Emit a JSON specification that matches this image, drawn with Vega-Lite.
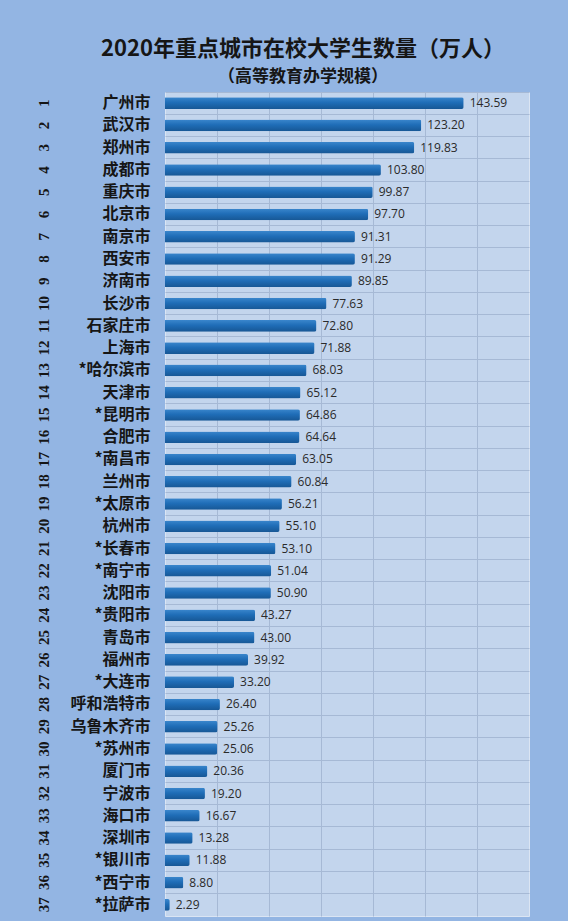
{
  "$schema": "https://vega.github.io/schema/vega-lite/v6.json",
  "width": 364,
  "height": 824,
  "autosize": {"type": "none"},
  "padding": {"left": 165, "top": 92, "right": 39, "bottom": 5},
  "background": "#93b5e3",
  "title": {
    "text": "2020年重点城市在校大学生数量（万人）",
    "subtitle": "（高等教育办学规模）",
    "font": "Noto Sans CJK SC",
    "subtitleFont": "Noto Sans CJK SC",
    "fontSize": 22,
    "subtitleFontSize": 17,
    "fontWeight": "bold",
    "subtitleFontWeight": "bold",
    "color": "#161616",
    "subtitleColor": "#161616",
    "anchor": "middle",
    "dx": -44,
    "offset": 6,
    "subtitlePadding": 8
  },
  "data": {
    "values": [
      {"rank": 1, "city": "广州市", "value": 143.59},
      {"rank": 2, "city": "武汉市", "value": 123.20},
      {"rank": 3, "city": "郑州市", "value": 119.83},
      {"rank": 4, "city": "成都市", "value": 103.80},
      {"rank": 5, "city": "重庆市", "value": 99.87},
      {"rank": 6, "city": "北京市", "value": 97.70},
      {"rank": 7, "city": "南京市", "value": 91.31},
      {"rank": 8, "city": "西安市", "value": 91.29},
      {"rank": 9, "city": "济南市", "value": 89.85},
      {"rank": 10, "city": "长沙市", "value": 77.63},
      {"rank": 11, "city": "石家庄市", "value": 72.80},
      {"rank": 12, "city": "上海市", "value": 71.88},
      {"rank": 13, "city": "*哈尔滨市", "value": 68.03},
      {"rank": 14, "city": "天津市", "value": 65.12},
      {"rank": 15, "city": "*昆明市", "value": 64.86},
      {"rank": 16, "city": "合肥市", "value": 64.64},
      {"rank": 17, "city": "*南昌市", "value": 63.05},
      {"rank": 18, "city": "兰州市", "value": 60.84},
      {"rank": 19, "city": "*太原市", "value": 56.21},
      {"rank": 20, "city": "杭州市", "value": 55.10},
      {"rank": 21, "city": "*长春市", "value": 53.10},
      {"rank": 22, "city": "*南宁市", "value": 51.04},
      {"rank": 23, "city": "沈阳市", "value": 50.90},
      {"rank": 24, "city": "*贵阳市", "value": 43.27},
      {"rank": 25, "city": "青岛市", "value": 43.00},
      {"rank": 26, "city": "福州市", "value": 39.92},
      {"rank": 27, "city": "*大连市", "value": 33.20},
      {"rank": 28, "city": "呼和浩特市", "value": 26.40},
      {"rank": 29, "city": "乌鲁木齐市", "value": 25.26},
      {"rank": 30, "city": "*苏州市", "value": 25.06},
      {"rank": 31, "city": "厦门市", "value": 20.36},
      {"rank": 32, "city": "宁波市", "value": 19.20},
      {"rank": 33, "city": "海口市", "value": 16.67},
      {"rank": 34, "city": "深圳市", "value": 13.28},
      {"rank": 35, "city": "*银川市", "value": 11.88},
      {"rank": 36, "city": "*西宁市", "value": 8.80},
      {"rank": 37, "city": "*拉萨市", "value": 2.29}
    ]
  },
  "layer": [
    {
      "encoding": {
        "x": {
          "field": "value",
          "type": "quantitative",
          "scale": {"domain": [0, 175], "nice": false},
          "axis": {
            "values": [25, 50, 75, 100, 125, 150],
            "labels": false,
            "ticks": false,
            "domain": false,
            "title": null,
            "grid": true,
            "gridColor": "#a6b9d5",
            "gridWidth": 1
          }
        },
        "y": {
          "field": "city",
          "type": "nominal",
          "sort": {"field": "rank", "op": "min"},
          "scale": {"paddingInner": 0, "paddingOuter": 0},
          "axis": {
            "title": null,
            "ticks": false,
            "domain": false,
            "labelPadding": 15,
            "labelFont": "Noto Sans CJK SC",
            "labelFontSize": 16,
            "labelFontWeight": "bold",
            "labelColor": "#161616",
            "grid": true,
            "bandPosition": 0,
            "gridColor": "#a6b9d5",
            "gridWidth": 1
          }
        }
      },
      "layer": [
        {
          "mark": {
            "type": "bar",
            "height": {"band": 0.52},
            "cornerRadiusEnd": 2,
            "color": {
              "gradient": "linear",
              "x1": 0, "y1": 0, "x2": 0, "y2": 1,
              "stops": [
                {"offset": 0, "color": "#3a86cc"},
                {"offset": 0.45, "color": "#1f6db7"},
                {"offset": 1, "color": "#175795"}
              ]
            }
          }
        },
        {
          "mark": {
            "type": "text",
            "align": "left",
            "baseline": "middle",
            "dx": 6,
            "font": "Open Sans",
            "fontSize": 12,
            "color": "#2a2a2a"
          },
          "encoding": {
            "text": {"field": "value", "type": "quantitative", "format": ".2f"}
          }
        }
      ]
    },
    {
      "mark": {"type": "point", "opacity": 0},
      "encoding": {
        "y": {
          "field": "rank",
          "type": "ordinal",
          "scale": {"type": "band", "paddingInner": 0, "paddingOuter": 0},
          "axis": {
            "orient": "left",
            "title": null,
            "ticks": false,
            "domain": false,
            "grid": false,
            "labelAngle": 270,
            "labelAlign": "center",
            "labelBaseline": "middle",
            "labelPadding": 122,
            "labelFont": "Liberation Serif",
            "labelFontSize": 15,
            "labelFontWeight": "bold",
            "labelColor": "#161616"
          }
        }
      }
    }
  ],
  "resolve": {"scale": {"y": "independent"}, "axis": {"y": "independent"}},
  "config": {
    "view": {"fill": "#c3d5ed", "stroke": "#dbe5f3", "strokeWidth": 1}
  }
}
